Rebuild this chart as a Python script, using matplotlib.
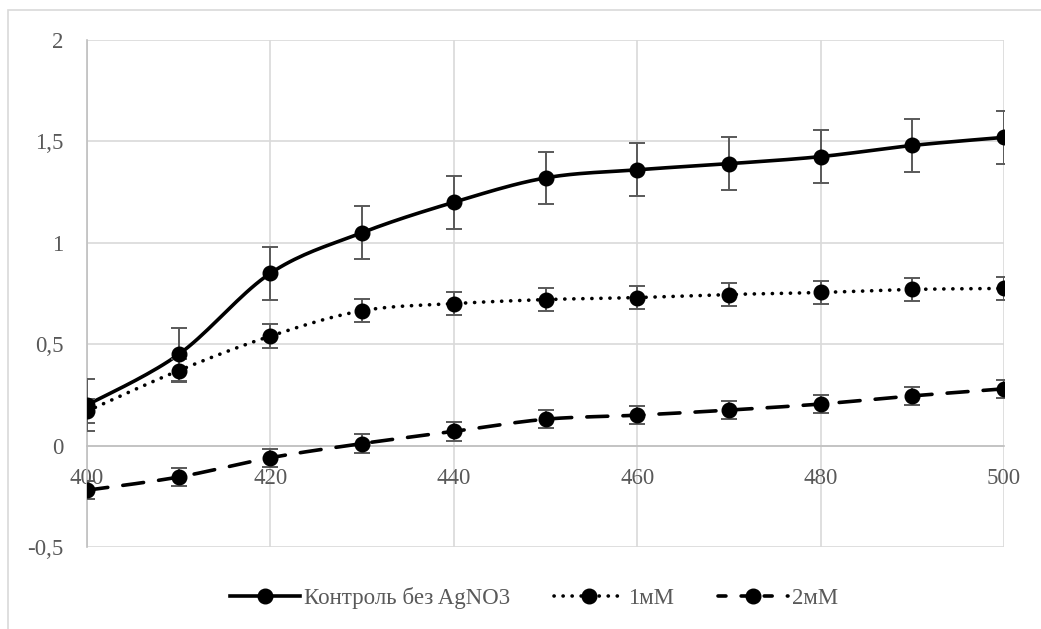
#!/usr/bin/env python3

import matplotlib
matplotlib.use("Agg")
import matplotlib.pyplot as plt
import matplotlib.ticker as ticker
import numpy as np

# wavelengths, nm
wl = [400, 410, 420, 430, 440, 450, 460, 470, 480, 490, 500]

control = [0.20, 0.45, 0.85, 1.05, 1.20, 1.32, 1.36, 1.39, 1.425, 1.48, 1.52]
control_err = [0.13] * 11

mm1 = [0.17, 0.37, 0.54, 0.665, 0.70, 0.72, 0.73, 0.745, 0.755, 0.77, 0.775]
mm1_err = [0.058] * 11

mm2 = [-0.22, -0.155, -0.06, 0.01, 0.07, 0.13, 0.15, 0.175, 0.205, 0.245, 0.28]
mm2_err = [0.045] * 11

labels = ["Контроль без AgNO3", "1мМ", "2мМ"]
y_ticks = [-0.5, 0, 0.5, 1, 1.5, 2]
x_ticks = [400, 420, 440, 460, 480, 500]


def smooth(x, y, n=20):
    # excel-like smoothed line (catmull-rom through bezier)
    p = np.column_stack([x, y]).astype(float)
    pts = [p[0]]
    for i in range(len(p) - 1):
        p0 = p[i - 1] if i > 0 else p[i]
        p1 = p[i]
        p2 = p[i + 1]
        p3 = p[i + 2] if i + 2 < len(p) else p[i + 1]
        c1 = p1 + (p2 - p0) / 6
        c2 = p2 - (p3 - p1) / 6
        t = np.linspace(0, 1, n)[1:, None]
        b = ((1 - t) ** 3 * p1 + 3 * (1 - t) ** 2 * t * c1
             + 3 * (1 - t) * t ** 2 * c2 + t ** 3 * p2)
        pts.extend(b)
    pts = np.array(pts)
    return pts[:, 0], pts[:, 1]


plt.rcParams['font.family'] = ['Liberation Serif', 'DejaVu Serif']
plt.rcParams['font.size'] = 16
grey = "#595959"

fig = plt.figure(figsize=(10.41, 6.29), dpi=100)
ax = fig.add_axes([0.0836, 0.1304, 0.8809, 0.806])

lw = 2.6
styles = [
    dict(linestyle="-"),
    dict(linestyle=(0, (0.05, 2.45)), dash_capstyle="round"),
    dict(linestyle=(0, (5.8, 4.2)), dash_capstyle="round"),
]
series = [(control, control_err), (mm1, mm1_err), (mm2, mm2_err)]

handles = []
for (y, err), st, lbl in zip(series, styles, labels):
    sx, sy = smooth(wl, y)
    ax.plot(sx, sy, color="black", lw=lw, zorder=3, **st)
    ax.errorbar(wl, y, yerr=err, fmt="none", ecolor=grey, elinewidth=1.4,
                capsize=5.5, capthick=1.4, zorder=4)
    ax.plot(wl, y, "o", color="black", ms=10.5, zorder=5)
    # legend handle; dashed one gets short dashes around the marker
    hst = dict(st)
    if lbl == labels[2]:
        hst["linestyle"] = (0, (2.2, 4.2, 2.2, 4.2))
    h, = ax.plot([], [], color="black", lw=lw, marker="o", ms=10.5,
                 label=lbl, **hst)
    handles.append(h)

ax.set_xlim(400, 500)
ax.set_ylim(-0.5, 2)
ax.set_xticks(x_ticks)
ax.set_yticks(y_ticks)
ax.yaxis.set_major_formatter(ticker.FuncFormatter(
    lambda v, pos: ("%g" % v).replace(".", ",")))

ax.grid(True, color="#d9d9d9", lw=1.2, zorder=0)
ax.set_axisbelow(True)
for s in ["top", "right"]:
    ax.spines[s].set_visible(False)
ax.spines["left"].set_color("#bfbfbf")
ax.spines["left"].set_linewidth(1.2)
ax.spines["bottom"].set_position(("data", 0))
ax.spines["bottom"].set_color("#bfbfbf")
ax.spines["bottom"].set_linewidth(1.2)
ax.tick_params(length=0, colors=grey, labelsize=16.5)
ax.tick_params(axis="x", pad=16)
ax.tick_params(axis="y", pad=17)

fig.legend(handles=handles, loc="center", bbox_to_anchor=(0.513, 0.049),
           ncol=3, frameon=False, handlelength=3.05, handletextpad=0.2,
           columnspacing=1.9, labelcolor=grey, fontsize=16.5)

# outer chart border (only top and left are inside the picture)
fig.patches.append(plt.Rectangle((0.008, -0.05), 1.1, 1.034, fill=False,
                                 edgecolor="#d9d9d9", lw=1.2,
                                 transform=fig.transFigure))

fig.savefig("out.png", dpi=100)
